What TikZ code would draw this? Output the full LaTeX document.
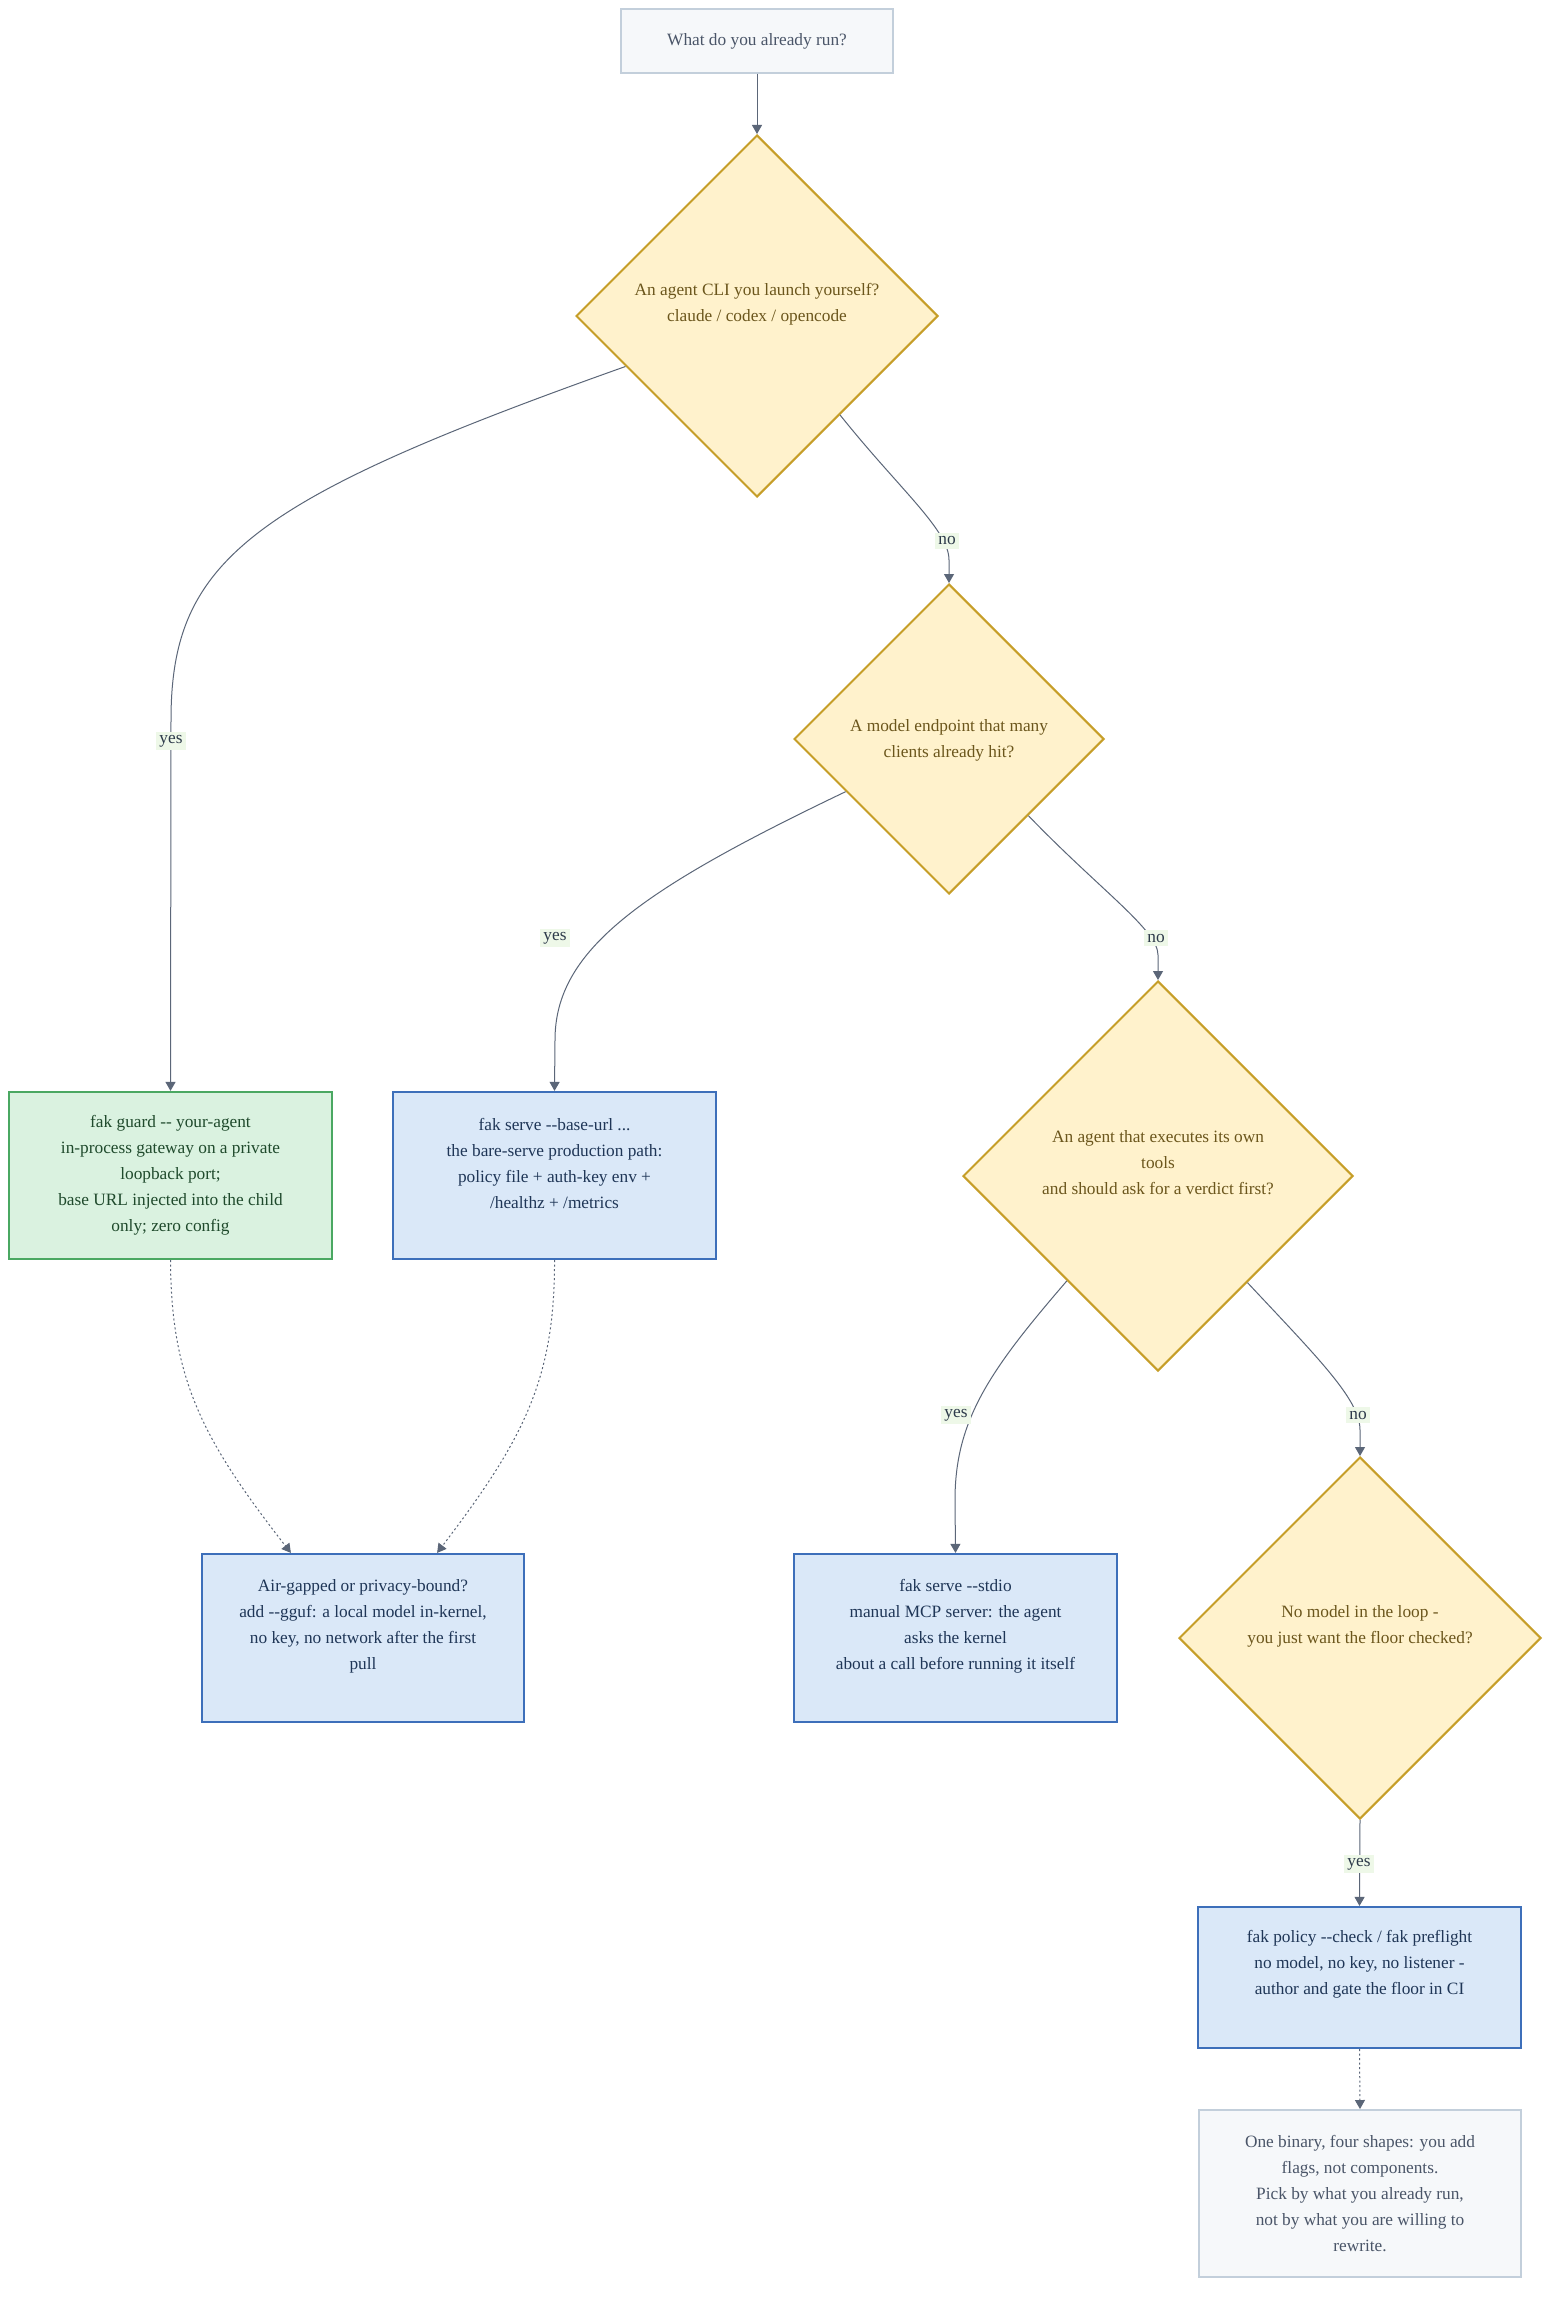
\documentclass[tikz,border=0pt]{standalone}
\usepackage{fontspec}
\setmainfont{Liberation Serif}
\usetikzlibrary{shapes.geometric,arrows.meta}
\definecolor{edgec}{HTML}{5B6678}
\definecolor{startfill}{HTML}{F6F8FA}
\definecolor{startdraw}{HTML}{C3CFDB}
\definecolor{starttext}{HTML}{4A5568}
\definecolor{diafill}{HTML}{FFF2CC}
\definecolor{diadraw}{HTML}{C69E28}
\definecolor{diatext}{HTML}{6B561C}
\definecolor{grfill}{HTML}{DAF2E0}
\definecolor{grdraw}{HTML}{4AA862}
\definecolor{grtext}{HTML}{1F4A2C}
\definecolor{blfill}{HTML}{DAE8F8}
\definecolor{bldraw}{HTML}{3D6FBA}
\definecolor{bltext}{HTML}{1F3657}
\definecolor{lblfill}{HTML}{EEF8E8}
\definecolor{lbltext}{HTML}{2D3A4A}
\newcommand\dfont{\fontsize{17.3pt}{26pt}\selectfont}
\newcommand\hh{-\kern0pt-}
\tikzset{
  startbox/.style={draw=startdraw, fill=startfill, line width=1.5pt, inner sep=0pt},
  dia/.style={diamond, draw=diadraw, fill=diafill, line width=2pt, inner sep=0pt, aspect=1},
  grbox/.style={draw=grdraw, fill=grfill, line width=2.2pt, inner sep=0pt},
  blbox/.style={draw=bldraw, fill=blfill, line width=2.2pt, inner sep=0pt},
  txt/.style={align=center, font=\dfont, inner sep=0pt},
  edge/.style={draw=edgec, line width=1pt, -{Triangle[length=9pt,width=10pt]}},
  dedge/.style={edge, dash pattern=on 2pt off 2.5pt},
  lbl/.style={fill=lblfill, text=lbltext, font=\dfont, inner sep=3.5pt}
}
\begin{document}
\begin{tikzpicture}[x=1pt,y=-1pt]
\useasboundingbox[fill=white] (0,0) rectangle (1568,2312);

% nodes
\node[startbox, minimum width=272pt, minimum height=64pt] (s) at (757,41) {};
\node[txt, text=starttext] (sT) at (757,41) {What do you already run?};

\node[dia, minimum width=362pt, minimum height=362pt] (d1) at (757,316) {};
\node[txt, text=diatext] (d1T) at (757,304) {An agent CLI you launch yourself?\\claude / codex / opencode};

\node[dia, minimum width=310pt, minimum height=310pt] (d2) at (949,739) {};
\node[txt, text=diatext] (d2T) at (949,740) {A model endpoint that many\\clients already hit?};

\node[dia, minimum width=390pt, minimum height=390pt] (d3) at (1158,1176) {};
\node[txt, text=diatext] (d3T) at (1158,1163) {An agent that executes its own\\tools\\and should ask for a verdict first?};

\node[dia, minimum width=362pt, minimum height=362pt] (d4) at (1360,1638) {};
\node[txt, text=diatext] (d4T) at (1360,1626) {No model in the loop -\\you just want the floor checked?};

\node[grbox, minimum width=323pt, minimum height=167pt] (g) at (170.5,1175.5) {};
\node[txt, text=grtext] (gT) at (170.5,1175) {fak guard \hh\ your-agent\\in-process gateway on a private\\loopback port;\\base URL injected into the child\\only; zero config};

\node[blbox, minimum width=323pt, minimum height=167pt] (b1) at (554.5,1175.5) {};
\node[txt, text=bltext] (b1T) at (554.5,1163) {fak serve \hh base-url ...\\the bare-serve production path:\\policy file + auth-key env +\\/healthz + /metrics};

\node[blbox, minimum width=322pt, minimum height=168pt] (ag) at (363,1638) {};
\node[txt, text=bltext] (agT) at (363,1626) {Air-gapped or privacy-bound?\\add \hh gguf: a local model in-kernel,\\no key, no network after the first\\pull};

\node[blbox, minimum width=323pt, minimum height=168pt] (st) at (955.5,1638) {};
\node[txt, text=bltext] (stT) at (955.5,1626) {fak serve \hh stdio\\manual MCP server: the agent\\asks the kernel\\about a call before running it itself};

\node[blbox, minimum width=323pt, minimum height=141pt] (pol) at (1359.5,1977.5) {};
\node[txt, text=bltext] (polT) at (1359.5,1964) {fak policy \hh check / fak preflight\\no model, no key, no listener -\\author and gate the floor in CI};

\node[startbox, line width=2pt, minimum width=322pt, minimum height=167pt] (fin) at (1360,2193.5) {};
\node[txt, text=starttext] (finT) at (1360,2194) {One binary, four shapes: you add\\flags, not components.\\Pick by what you already run,\\not by what you are willing to\\rewrite.};

% connectors
\draw[edge] (s.south) -- (d1.north);
\draw[edge] (d1.201) .. controls (250,500) and (171,560) .. (171,720) -- (g.north);
\draw[edge] (d1.310) .. controls (900,490) and (949,530) .. (949,560) -- (d2.north);
\draw[edge] (d2.207) .. controls (640,890) and (555,950) .. (555,1040) -- (b1.north);
\draw[edge] (d2.316.5) .. controls (1100,890) and (1158,930) .. (1158,955) -- (d3.north);
\draw[edge] (d3.229) .. controls (990,1370) and (955,1420) .. (955,1500) -- (st.north);
\draw[edge] (d3.310.6) .. controls (1320,1360) and (1360,1400) .. (1360,1430) -- (d4.north);
\draw[edge] (d4.south) -- (pol.north);
\draw[dedge] (g.south) .. controls (171,1380) and (203,1440) .. ([xshift=90pt]ag.north west);
\draw[dedge] (b1.south) .. controls (555,1380) and (523,1440) .. ([xshift=-88pt]ag.north east);
\draw[dedge] (pol.south) -- (fin.north);

% edge labels
\node[lbl] (l1) at (171,741) {yes};
\node[lbl] (l2) at (947,541) {no};
\node[lbl] (l3) at (555,938) {yes};
\node[lbl] (l4) at (1156,938) {no};
\node[lbl] (l5) at (956,1415) {yes};
\node[lbl] (l6) at (1358,1415) {no};
\node[lbl] (l7) at (1359,1864) {yes};
\end{tikzpicture}
\end{document}
